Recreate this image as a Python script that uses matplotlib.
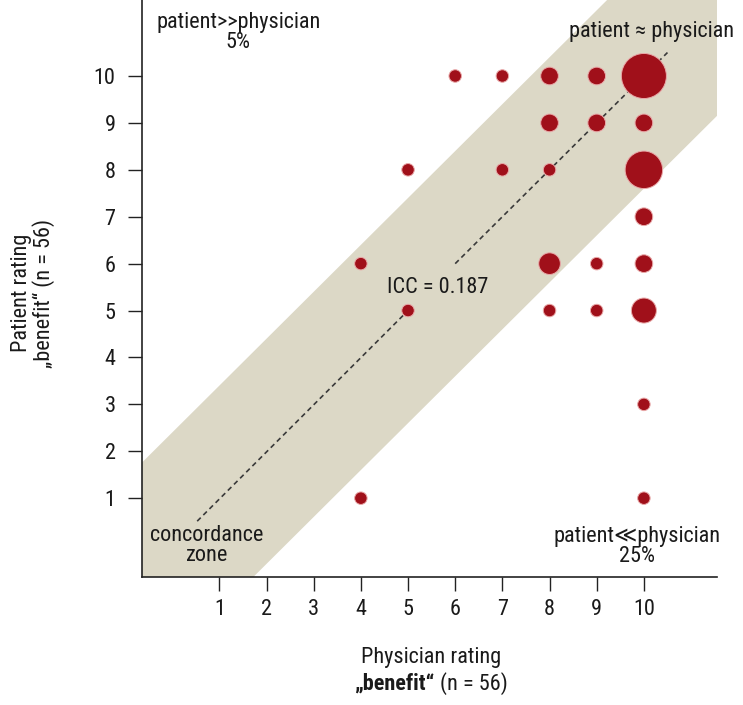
import matplotlib
matplotlib.use('Agg')
import matplotlib.pyplot as plt
from matplotlib import font_manager
import numpy as np

# ratings (physician x, patient y) and number of patients at each point
physician = [4, 10, 10, 5, 8, 9, 10, 4, 8, 9, 10, 10, 5, 7, 8, 10, 8, 9, 10, 6, 7, 8, 9, 10]
patient = [1, 1, 3, 5, 5, 5, 5, 6, 6, 6, 6, 7, 8, 8, 8, 8, 9, 9, 9, 10, 10, 10, 10, 10]
counts = [1, 1, 1, 1, 1, 1, 4, 1, 3, 1, 2, 2, 1, 1, 1, 9, 2, 2, 2, 1, 1, 2, 2, 13]
ticks = list(range(1, 11))
band_half = 2.4
icc_label = 'ICC = 0.187'


def pick_font():
    # condensed sans if there is one
    for fam in ['Roboto Condensed', 'Liberation Sans Narrow']:
        try:
            font_manager.findfont(font_manager.FontProperties(family=fam), fallback_to_default=False)
            return fam
        except ValueError:
            pass
    return 'Liberation Sans'


plt.rcParams['font.family'] = [pick_font(), 'DejaVu Sans']

TXT = '#1a1a1a'
fig = plt.figure(figsize=(7.43, 7.05), dpi=100)
ax = fig.add_axes([142 / 743, 1 - 577 / 705, 575 / 743, 577 / 705])
xlim = (-0.64, 11.55)
ylim = (-0.68, 11.62)

# concordance band
xs = np.array([xlim[0] - 1, xlim[1] + 1])
ax.fill_between(xs, xs - band_half, xs + band_half, color='#dcd8c6', lw=0, zorder=0)

# dashed identity line, broken for the ICC label
ax.plot([0.53, 5.0], [0.51, 5.0], color='#3a3a3a', lw=1.2, dashes=(3, 2.2), zorder=1)
ax.plot([6.0, 10.5], [6.0, 10.5], color='#3a3a3a', lw=1.2, dashes=(3, 2.2), zorder=1)

s = np.array(counts) * 81
ax.scatter(physician, patient, s=s, color='#a0101a', edgecolor='#e9a9a9', linewidth=0.7, zorder=3)

ax.set_xlim(*xlim)
ax.set_ylim(*ylim)
ax.set_xticks(ticks)
ax.set_yticks(ticks)
ax.tick_params(length=10, width=1, color='#222222', labelsize=16, labelcolor=TXT)
ax.tick_params(axis='x', pad=6)
ax.tick_params(axis='y', pad=9)
for sp in ['top', 'right']:
    ax.spines[sp].set_visible(False)
for sp in ['left', 'bottom']:
    ax.spines[sp].set_linewidth(1.2)
    ax.spines[sp].set_color('#222222')

kw = dict(fontsize=16, color=TXT, ha='center', linespacing=0.95, clip_on=False)
ax.text(1.40, 11.36, 'patient>>physician\n5%', va='top', **kw)
ax.text(10.17, 10.95, 'patient ≈ physician', va='center', **kw)
ax.text(9.85, -0.03, 'patient≪physician\n25%', va='center', **kw)
ax.text(0.74, 0.0, 'concordance\nzone', va='center', **kw)
ax.text(5.63, 5.49, icc_label, va='center', ha='center', fontsize=16, color=TXT)

# axis titles
fig.text(431 / 743, 1 - 657 / 705, 'Physician rating', ha='center', va='center', fontsize=16, color=TXT)
t1 = fig.text(0, 1 - 684 / 705, '„benefit“', ha='left', va='center', fontsize=16,
              fontweight='bold', color=TXT)
t2 = fig.text(0, 1 - 684 / 705, '(n = 56)', ha='left', va='center', fontsize=16, color=TXT)
r = fig.canvas.get_renderer()
w1 = t1.get_window_extent(r).width
w2 = t2.get_window_extent(r).width
gap = 5
x0 = 431 - (w1 + w2 + gap) / 2
t1.set_x(x0 / 743)
t2.set_x((x0 + w1 + gap) / 743)

fig.text(33 / 743, 1 - 293 / 705, 'Patient rating\n„benefit“ (n = 56)', ha='center', va='center',
         rotation=90, fontsize=16, linespacing=0.95, color=TXT)

fig.savefig('out.png', dpi=100)
